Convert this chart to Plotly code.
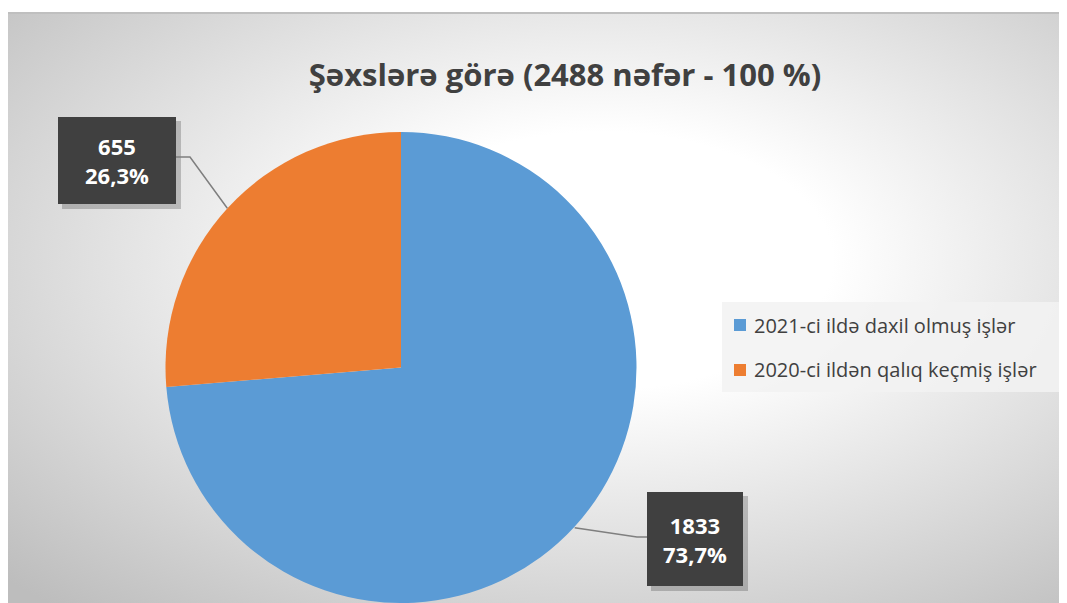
import base64
import math
import plotly.graph_objects as go

# ---- data ----
labels = ["2021-ci ildə daxil olmuş işlər", "2020-ci ildən qalıq keçmiş işlər"]
values = [1833, 655]
colors = ["#5B9BD5", "#ED7D31"]
title_text = "Şəxslərə görə (2488 nəfər - 100 %)"

# page body has an 8px margin, so the figure is offset by 8px
OFF = 8
W, H = 1067 - OFF, 603 - OFF


def px(x):
    return (x - OFF) / W


def py(y):
    return 1 - (y - OFF) / H


FONT = "'Open Sans', 'Noto Sans', sans-serif"

# pie geometry (page pixels)
cx, cy, r = 401, 368, 236
dom_x = [px(cx - r), px(cx + r)]
dom_y = [max(0.0, py(cy + r)), py(cy - r)]

fig = go.Figure()
fig.add_trace(go.Pie(
    labels=labels, values=values, sort=False, direction="clockwise", rotation=0,
    marker=dict(colors=colors, line=dict(width=0)),
    textinfo="none", hoverinfo="label+value+percent",
    domain=dict(x=dom_x, y=dom_y), showlegend=False,
))

# background gradient via SVG image
svg = (
    '<svg xmlns="http://www.w3.org/2000/svg" width="1060" height="590">'
    '<defs><radialGradient id="g" cx="0.56" cy="0.42" r="0.78">'
    '<stop offset="0" stop-color="#ffffff"/>'
    '<stop offset="0.28" stop-color="#ffffff"/>'
    '<stop offset="1" stop-color="#bdbdbd"/>'
    '</radialGradient></defs>'
    '<rect width="1060" height="590" fill="url(#g)"/></svg>'
)
src = "data:image/svg+xml;base64," + base64.b64encode(svg.encode()).decode()

shapes = []
annotations = []

# chart border line (top)
shapes.append(dict(type="line", xref="paper", yref="paper", x0=0, x1=1, y0=py(13), y1=py(13),
                   line=dict(color="#bfbfbf", width=2)))

# data labels
total = sum(values)
boxes = [  # (x0, y0, x1, y1) of label box for each slice
    (647, 492, 743, 586),
    (58, 117, 176, 204),
]
elbows = [(637, 537), (190, 157)]
anchors = [(647, 537), (176, 157)]
cum = 0
for i, v in enumerate(values):
    mid = (cum + v / 2) / total * 2 * math.pi
    cum += v
    ex = cx + r * math.sin(mid)
    ey = cy - r * math.cos(mid)
    bx0, by0, bx1, by1 = boxes[i]
    # shadow
    shapes.append(dict(type="rect", xref="paper", yref="paper",
                       x0=px(bx0 + 4), x1=px(bx1 + 5), y0=py(by0 + 4), y1=py(by1 + 5),
                       fillcolor="rgba(0,0,0,0.2)", line=dict(width=0)))
    shapes.append(dict(type="rect", xref="paper", yref="paper",
                       x0=px(bx0), x1=px(bx1), y0=py(by0), y1=py(by1),
                       fillcolor="#404040", line=dict(width=0)))
    elx, ely = elbows[i]
    ax_, ay_ = anchors[i]
    shapes.append(dict(type="path", xref="paper", yref="paper",
                       path=f"M {px(ex)} {py(ey)} L {px(elx)} {py(ely)} L {px(ax_)} {py(ay_)}",
                       line=dict(color="#7f7f7f", width=1.5)))
    pct = f"{v / total * 100:.1f}%".replace(".", ",")
    annotations.append(dict(xref="paper", yref="paper", x=px((bx0 + bx1) / 2), y=py((by0 + by1) / 2),
                            text=f"<b>{v}</b><br><b>{pct}</b>", showarrow=False,
                            font=dict(family=FONT, size=22, color="white"),
                            xanchor="center", yanchor="middle", align="center"))

# custom legend
lx0, ly0, lx1, ly1 = 722, 302, 1062, 392
shapes.append(dict(type="rect", xref="paper", yref="paper", x0=px(lx0), x1=px(lx1), y0=py(ly0), y1=py(ly1),
                   fillcolor="rgba(242,242,242,0.85)", line=dict(width=0)))
row_y = [325, 370]
for i, lab in enumerate(labels):
    yy = row_y[i]
    shapes.append(dict(type="rect", xref="paper", yref="paper", x0=px(734), x1=px(746),
                       y0=py(yy - 6), y1=py(yy + 6), fillcolor=colors[i], line=dict(width=0)))
    annotations.append(dict(xref="paper", yref="paper", x=px(752), y=py(yy), text=lab, showarrow=False,
                            xanchor="left", yanchor="middle",
                            font=dict(family=FONT, size=20, color="#404040")))

fig.update_layout(
    width=W, height=H,
    margin=dict(l=0, r=0, t=0, b=0),
    paper_bgcolor="white", plot_bgcolor="white",
    title=dict(text=f"<b>{title_text}</b>", x=px(565), y=py(75), xanchor="center", yanchor="middle",
               font=dict(family=FONT, size=31, color="#404040")),
    images=[dict(source=src, xref="paper", yref="paper", x=0, y=py(13), sizex=1, sizey=py(13),
                 xanchor="left", yanchor="top", sizing="stretch", layer="below")],
    shapes=shapes, annotations=annotations,
)

fig.write_html("out.html")
